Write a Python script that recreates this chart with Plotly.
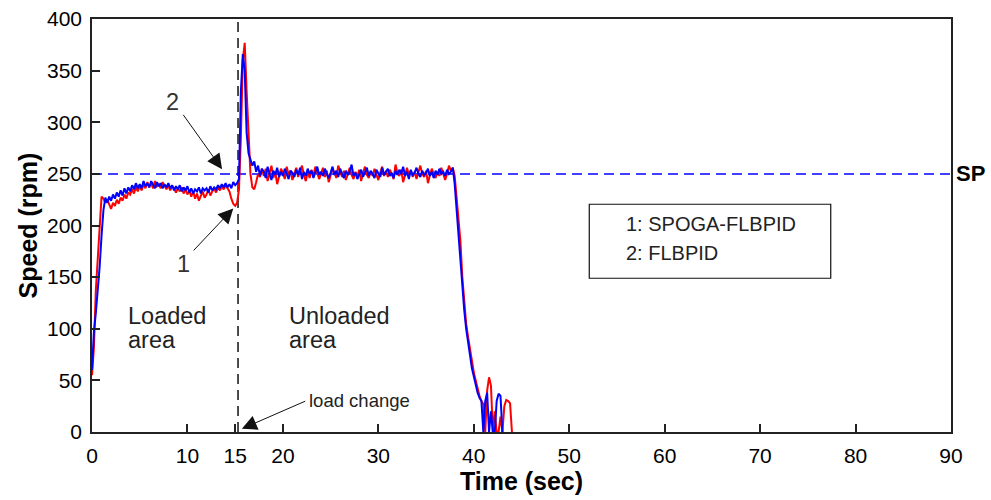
import plotly.graph_objects as go

DT = 0.2
red_speed = [  # 1: SPOGA-FLBPID
    55, 82, 137, 170, 208,
    228, 226, 222, 225, 220,
    216, 222, 219, 225, 221,
    227, 224, 230, 226, 232,
    230, 235, 231, 237, 233,
    238, 234, 240, 236, 242,
    237, 241, 236, 243, 238,
    240, 236, 242, 238, 235,
    239, 234, 238, 236, 232,
    236, 233, 237, 231, 235,
    230, 234, 228, 233, 226,
    231, 224, 229, 233, 227,
    230, 235, 229, 233, 236,
    232, 237, 234, 238, 235,
    239, 236, 233, 226, 221,
    219, 222, 235, 285, 360,
    377, 330, 285, 250, 237,
    235, 242, 250, 247, 255,
    248, 255, 243, 251, 258,
    246, 252, 240, 249, 255,
    251, 245, 257, 249, 253,
    244, 250, 256, 247, 252,
    258, 249, 243, 252, 246,
    254, 248, 257, 251, 245,
    250, 256, 247, 253, 242,
    249, 255, 251, 246, 258,
    252, 247, 253, 244, 250,
    256, 249, 245, 252, 248,
    254, 243, 251, 257, 249,
    246, 252, 248, 255, 250,
    244, 251, 257, 248, 253,
    247, 254, 250, 245, 259,
    251, 248, 254, 242, 250,
    256, 249, 253, 247, 252,
    245, 251, 258, 250, 247,
    253, 241, 249, 255, 250,
    246, 252, 248, 256, 251,
    244, 250, 258, 253, 256,
    248, 225, 200, 185, 150,
    128, 105, 92, 80, 66,
    58, 50, 42, 35, 30,
    27, 0, 40, 53, 45,
    0, 20, 0, 0, 15,
    0, 25, 31, 30, 28,
    0,
]
blue_speed = [  # 2: FLBPID
    60, 97, 115, 135, 160,
    190, 215, 227, 222, 228,
    224, 230, 226, 232, 228,
    234, 229, 236, 231, 237,
    233, 239, 235, 241, 236,
    240, 236, 243, 238, 241,
    237, 243, 239, 236, 242,
    238, 241, 236, 240, 237,
    241, 236, 239, 234, 238,
    235, 239, 233, 237, 234,
    238, 232, 236, 231, 235,
    233, 237, 231, 236, 234,
    236, 232, 238, 234, 237,
    235, 239, 236, 240, 237,
    241, 237, 240, 236, 242,
    239, 241, 245, 330, 366,
    350, 290, 270, 264, 258,
    262, 252, 258, 248, 255,
    252, 246, 257, 250, 244,
    253, 249, 256, 247, 252,
    248, 255, 250, 245, 253,
    251, 247, 254, 249, 256,
    245, 252, 248, 255, 250,
    253, 246, 251, 257, 249,
    252, 248, 255, 250, 246,
    251, 257, 249, 253, 247,
    255, 250, 246, 253, 249,
    252, 259, 248, 251, 245,
    250, 254, 247, 252, 256,
    248, 253, 250, 246, 254,
    251, 247, 256, 249, 252,
    255, 248, 251, 246, 253,
    249, 254, 250, 257, 248,
    252, 245, 254, 249, 251,
    256, 250, 247, 253, 249,
    251, 255, 248, 252, 246,
    253, 249, 255, 250, 252,
    248, 254, 250, 252, 256,
    240, 215, 193, 170, 142,
    118, 100, 86, 74, 62,
    54, 45, 38, 33, 30,
    0, 30, 38, 0, 20,
    0, 0, 30, 37, 35,
    0,
]
SP_VALUE = 250
LOAD_CHANGE_T = 15.3
X_RANGE = [0, 90]
Y_RANGE = [0, 400]
x_tick_vals = [0, 10, 15, 20, 30, 40, 50, 60, 70, 80, 90]
x_tick_text = ["0", "10", "15", "20", "30", "40", "50", "60", "70", "80", "90"]
y_tick_vals = [0, 50, 100, 150, 200, 250, 300, 350, 400]
legend_lines = ["1: SPOGA-FLBPID", "2: FLBPID"]

t_red = [round(i * DT, 1) for i in range(len(red_speed))]
t_blue = [round(i * DT, 1) for i in range(len(blue_speed))]

FONT = "Arial, Liberation Sans, sans-serif"
TXT = "#222222"

fig = go.Figure()
fig.add_trace(go.Scatter(x=X_RANGE, y=[SP_VALUE, SP_VALUE], mode="lines",
                         line=dict(color="#0000ff", width=1.5, dash="10px,6px"),
                         showlegend=False, hoverinfo="skip"))
fig.add_trace(go.Scatter(x=[LOAD_CHANGE_T, LOAD_CHANGE_T], y=Y_RANGE, mode="lines",
                         line=dict(color="#111111", width=1.5, dash="10px,6px"),
                         showlegend=False, hoverinfo="skip"))
fig.add_trace(go.Scatter(x=t_red, y=red_speed, mode="lines",
                         line=dict(color="#ff0000", width=2), showlegend=False))
fig.add_trace(go.Scatter(x=t_blue, y=blue_speed, mode="lines",
                         line=dict(color="#0000ff", width=2), showlegend=False))

axis_common = dict(showgrid=False, zeroline=False, showline=True, linecolor="#222222",
                   linewidth=1.5, mirror=True, ticks="inside", ticklen=8,
                   tickcolor="#222222", tickwidth=1.5, automargin=False,
                   ticklabeloverflow="allow",
                   tickfont=dict(family=FONT, size=21, color="#000000"))

fig.update_xaxes(range=X_RANGE, tickmode="array", tickvals=x_tick_vals,
                 ticktext=x_tick_text, ticklabelstandoff=4,
                 title=dict(text="<b>Time (sec)</b>", standoff=0,
                            font=dict(family=FONT, size=25, color="#000000")),
                 **axis_common)
fig.update_yaxes(range=Y_RANGE, tickmode="array", tickvals=y_tick_vals,
                 ticklabelstandoff=4,
                 title=dict(text="<b>Speed (rpm)</b>", standoff=2,
                            font=dict(family=FONT, size=25, color="#000000")),
                 **axis_common)

ann = []
def txt(x, y, s, size=23.5, xanchor="left", color=TXT, xref="x", bold=False):
    ann.append(dict(x=x, y=y, xref=xref, yref="y", text=(f"<b>{s}</b>" if bold else s),
                    showarrow=False, xanchor=xanchor, yanchor="middle",
                    font=dict(family=FONT, size=size, color=color)))

def arrow(x, y, ax, ay):
    ann.append(dict(x=x, y=y, ax=ax, ay=ay, xref="x", yref="y", axref="x", ayref="y",
                    text="", showarrow=True, arrowhead=2, arrowsize=3,
                    arrowwidth=1, arrowcolor="#111111"))

txt(3.6, 112.5, "Loaded")
txt(3.6, 89.5, "area")
txt(20.4, 112.5, "Unloaded")
txt(20.4, 89.5, "area")
txt(8.4, 320, "2", xanchor="center", color="#333333")
txt(9.6, 163, "1", xanchor="center", color="#333333")
arrow(13.63, 254.6, 9.45, 308.6)
arrow(14.8, 216.5, 10.5, 174.4)
arrow(15.7, 3.1, 22.5, 30.5)
txt(22.5, 30.5, "load change", size=18.5)
txt(55.7, 201, legend_lines[0], size=20)
txt(55.7, 173.6, legend_lines[1], size=20)
txt(1.004, SP_VALUE, "SP", size=22, xref="paper", color="#000000", bold=True)

fig.add_shape(type="rect", xref="x", yref="y", x0=52.1, x1=77.4, y0=148.9, y1=220.6,
              line=dict(color="#111111", width=1.2), fillcolor="rgba(0,0,0,0)")

fig.update_layout(width=991, height=500, margin=dict(l=92, r=40, t=19, b=68),
                  plot_bgcolor="white", paper_bgcolor="white", annotations=ann,
                  font=dict(family=FONT))

# remove the browser's default body margin so the figure sits at the page origin
fig.write_html("out.html", config={"displayModeBar": False},
               post_script="document.body.style.margin='0';")
